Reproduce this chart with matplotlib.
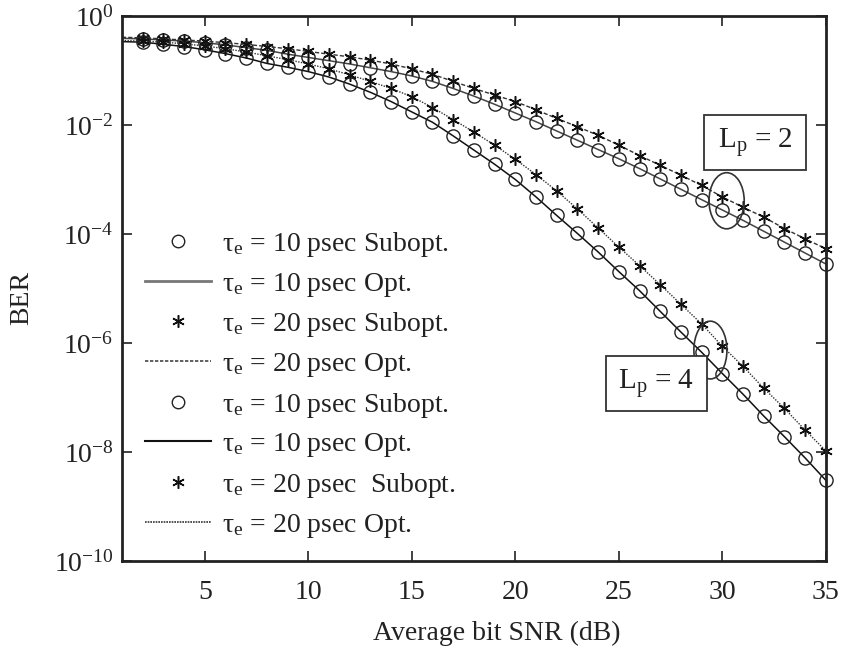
import numpy as np
import matplotlib
matplotlib.use("Agg")
import matplotlib.pyplot as plt
from matplotlib.patches import Ellipse, Rectangle
from matplotlib.lines import Line2D

plt.rcParams['font.family'] = ['Liberation Serif', 'DejaVu Serif']
plt.rcParams['mathtext.fontset'] = 'custom'
plt.rcParams['mathtext.rm'] = 'Liberation Serif'
plt.rcParams['mathtext.it'] = 'Liberation Serif:italic'
plt.rcParams['mathtext.bf'] = 'Liberation Serif:bold'

# Average bit SNR (dB): curves start at 1 dB, markers every 1 dB from 2 dB
snr = list(range(1, 36))

# log10(BER), L_p = 2
log_ber_lp2_10 = [-0.41, -0.42, -0.44, -0.46, -0.49, -0.53, -0.58, -0.63, -0.70, -0.76,
                  -0.82, -0.88, -0.95, -1.02, -1.10, -1.20, -1.33, -1.47, -1.62, -1.78,
                  -1.94, -2.11, -2.28, -2.45, -2.62, -2.80, -2.99, -3.18, -3.37, -3.56,
                  -3.75, -3.95, -4.15, -4.35, -4.55]
log_ber_lp2_20 = [-0.39, -0.40, -0.42, -0.44, -0.46, -0.49, -0.52, -0.56, -0.60, -0.65,
                  -0.70, -0.75, -0.81, -0.88, -0.97, -1.07, -1.20, -1.33, -1.45, -1.57,
                  -1.72, -1.88, -2.03, -2.19, -2.37, -2.56, -2.74, -2.92, -3.11, -3.32,
                  -3.51, -3.69, -3.90, -4.09, -4.27]
# log10(BER), L_p = 4
log_ber_lp4_10 = [-0.47, -0.48, -0.52, -0.56, -0.62, -0.69, -0.77, -0.87, -0.94, -1.02,
                  -1.12, -1.25, -1.40, -1.57, -1.76, -1.95, -2.20, -2.46, -2.72, -3.00,
                  -3.32, -3.66, -3.99, -4.33, -4.69, -5.04, -5.42, -5.80, -6.17, -6.56,
                  -6.94, -7.34, -7.72, -8.11, -8.52]
log_ber_lp4_20 = [-0.45, -0.46, -0.48, -0.51, -0.55, -0.60, -0.66, -0.73, -0.80, -0.88,
                  -0.97, -1.08, -1.20, -1.33, -1.48, -1.68, -1.90, -2.13, -2.37, -2.63,
                  -2.91, -3.21, -3.54, -3.89, -4.24, -4.58, -4.93, -5.29, -5.65, -6.06,
                  -6.43, -6.83, -7.20, -7.60, -7.98]

legend_labels = [
    r'τ$_{\rm e}$ = 10 psec Subopt.',
    r'τ$_{\rm e}$ = 10 psec Opt.',
    r'τ$_{\rm e}$ = 20 psec Subopt.',
    r'τ$_{\rm e}$ = 20 psec Opt.',
    r'τ$_{\rm e}$ = 10 psec Subopt.',
    r'τ$_{\rm e}$ = 10 psec Opt.',
    r'τ$_{\rm e}$ = 20 psec  Subopt.',
    r'τ$_{\rm e}$ = 20 psec Opt.',
]
xticks = [5, 10, 15, 20, 25, 30, 35]
yticks = [1e-10, 1e-8, 1e-6, 1e-4, 1e-2, 1e0]

fig = plt.figure(figsize=(8.41, 6.48), dpi=100)
ax = fig.add_axes([0.145, 0.1343, 0.837, 0.841])

x_all = np.array(snr, dtype=float)
x_mk = x_all[1:]

circ = dict(marker='o', ms=9.5, mfc='none', mec='#222222', mew=1.0, ls='none', clip_on=False)
star = dict(marker=(6, 2, 0), ms=9, mec='#111111', mew=1.1, ls='none', clip_on=False)

curves = [
    (log_ber_lp2_10, circ, dict(color='#444444', ls='-', lw=1.1)),
    (log_ber_lp2_20, star, dict(color='#333333', ls=(0, (3, 1.5)), lw=1.0)),
    (log_ber_lp4_10, circ, dict(color='#111111', ls='-', lw=1.1)),
    (log_ber_lp4_20, star, dict(color='#333333', ls=(0, (1, 1)), lw=1.0)),
]
for vals, mk, ln in curves:
    y = 10.0 ** np.array(vals)
    ax.plot(x_all, y, **ln)
    ax.plot(x_mk, y[1:], **mk)

ax.set_yscale('log')
ax.set_xlim(1, 35)
ax.set_ylim(1e-10, 1)
ax.set_xticks(xticks)
ax.set_xticklabels([str(t) for t in xticks])
ax.set_yticks(yticks)
ax.set_yticklabels([r'10$^{%d}$' % int(round(np.log10(t))) for t in yticks])
ax.yaxis.set_minor_locator(matplotlib.ticker.NullLocator())
ax.tick_params(direction='in', length=7, width=1.2, top=True, right=True,
               labelsize=20, colors='#222222')
ax.tick_params(axis='x', pad=14)
ax.tick_params(axis='y', pad=6)
for s in ax.spines.values():
    s.set_linewidth(2.0)
    s.set_color('#222222')

ax.set_xlabel('Average bit SNR (dB)', fontsize=20, color='#222222')
ax.xaxis.set_label_coords(0.533, -0.11)
ax.set_ylabel('BER', fontsize=20, color='#222222')
ax.yaxis.set_label_coords(-0.125, 0.483)

# legend handles
h = [
    Line2D([], [], **{**circ, 'ms': 9}),
    Line2D([], [], color='#777777', ls='-', lw=2.0),
    Line2D([], [], **{**star, 'ms': 9}),
    Line2D([], [], color='#444444', ls=(0, (2, 1)), lw=1.2),
    Line2D([], [], **{**circ, 'ms': 9}),
    Line2D([], [], color='#111111', ls='-', lw=1.5),
    Line2D([], [], **{**star, 'ms': 9}),
    Line2D([], [], color='#333333', ls=(0, (1, 0.6)), lw=1.2),
]
leg = ax.legend(h, legend_labels, loc='upper left', bbox_to_anchor=(0.0165, 0.628),
                frameon=False, fontsize=20, handlelength=2.4, handletextpad=0.4,
                labelspacing=0.42, borderaxespad=0)
for t in leg.get_texts():
    t.set_color('#222222')

# L_p annotations
for (x0, y0, w, hgt), lab in [((0.827, 0.717, 0.145, 0.101), r'L$_{\rm p}$ = 2'),
                              ((0.6875, 0.275, 0.1435, 0.101), r'L$_{\rm p}$ = 4')]:
    ax.add_patch(Rectangle((x0, y0), w, hgt, transform=ax.transAxes, fill=True,
                           fc='white', ec='#333333', lw=1.3, zorder=5))
    ax.text(x0 + w / 2, y0 + hgt / 2, lab, transform=ax.transAxes, ha='center',
            va='center', fontsize=21, color='#222222', zorder=6)

ax.add_patch(Ellipse((0.859, 0.661), 0.05, 0.103, transform=ax.transAxes,
                     fill=False, ec='#333333', lw=1.2, zorder=4))
ax.add_patch(Ellipse((0.836, 0.387), 0.047, 0.106, transform=ax.transAxes,
                     fill=False, ec='#333333', lw=1.2, zorder=4))

fig.savefig('out.png', dpi=100)
